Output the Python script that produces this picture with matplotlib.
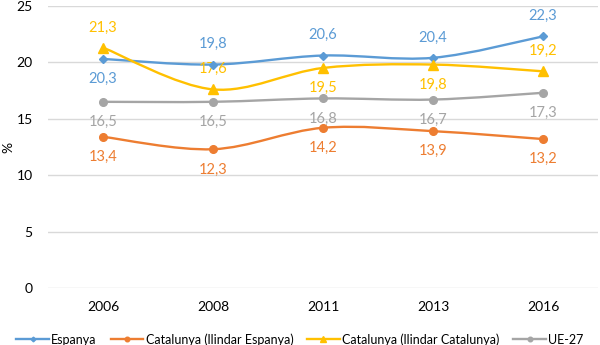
import matplotlib.pyplot as plt
from matplotlib.path import Path
from matplotlib.patches import PathPatch
from matplotlib.lines import Line2D
import numpy as np

plt.rcParams['font.family'] = ['Lato', 'DejaVu Sans']

years = ['2006', '2008', '2011', '2013', '2016']
espanya = [20.3, 19.8, 20.6, 20.4, 22.3]
cat_esp = [13.4, 12.3, 14.2, 13.9, 13.2]
cat_cat = [21.3, 17.6, 19.5, 19.8, 19.2]
ue27 = [16.5, 16.5, 16.8, 16.7, 17.3]

names = ['Espanya', 'Catalunya (llindar Espanya)', 'Catalunya (llindar Catalunya)', 'UE-27']
colors = ['#5B9BD5', '#ED7D31', '#FFC000', '#A5A5A5']
markers = ['D', 'o', '^', 'o']
msizes = [4, 5.5, 6.5, 5.5]
# label above (+1) or below (-1) each point
placement = [
    [-1, 1, 1, 1, 1],
    [-1, -1, -1, -1, -1],
    [1, 1, -1, -1, 1],
    [-1, -1, -1, -1, -1],
]


def smooth_path(xs, ys):
    # Catmull-Rom style curve drawn as cubic Bezier segments (like Excel's smoothed lines)
    pts = np.column_stack([xs, ys]).astype(float)
    ext = np.vstack([pts[0], pts, pts[-1]])
    verts = [pts[0]]
    codes = [Path.MOVETO]
    for i in range(len(pts) - 1):
        p0, p1, p2, p3 = ext[i], ext[i + 1], ext[i + 2], ext[i + 3]
        verts += [p1 + (p2 - p0) / 6, p2 - (p3 - p1) / 6, p2]
        codes += [Path.CURVE4] * 3
    return Path(verts, codes)


fig = plt.figure(figsize=(6, 3.45), dpi=100)
ax = fig.add_axes([0.08, 0.165, 0.917, 0.818])

x = np.arange(len(years))
series = [espanya, cat_esp, cat_cat, ue27]
handles = []
for vals, c, m, ms, pl, name in zip(series, colors, markers, msizes, placement, names):
    ax.add_patch(PathPatch(smooth_path(x, vals), fill=False, edgecolor=c, lw=1.7,
                           capstyle='round', joinstyle='round', zorder=3))
    ax.plot(x, vals, linestyle='none', marker=m, color=c, markersize=ms, zorder=4)
    for xi, v, p in zip(x, vals, pl):
        ax.annotate(f'{v:.1f}'.replace('.', ','), (xi, v), xytext=(0, 9.5 * p),
                    textcoords='offset points', ha='center',
                    va='bottom' if p > 0 else 'top', color=c, fontsize=10.5)
    handles.append(Line2D([], [], color=c, marker=m, markersize=ms * 0.6, lw=1.7))

ax.set_xlim(-0.5, 4.5)
ax.set_ylim(0, 25)
ax.set_yticks([0, 5, 10, 15, 20, 25])
ax.set_xticks(x)
ax.set_xticklabels(years)
ax.grid(axis='y', color='#D9D9D9', lw=1)
ax.set_axisbelow(True)
for s in ax.spines.values():
    s.set_visible(False)
ax.tick_params(length=0, labelsize=10, colors='#000000')
ax.tick_params(axis='y', pad=11)
ax.tick_params(axis='x', pad=9)
ax.set_ylabel('%', fontsize=10)
ax.yaxis.set_label_coords(-0.062, 0.5)

fig.legend(handles, names, loc='lower center', bbox_to_anchor=(0.5, -0.035), ncol=4,
           frameon=False, fontsize=9, handlelength=2.6, columnspacing=1.1, handletextpad=0.2)

fig.savefig('out.png', dpi=100)
